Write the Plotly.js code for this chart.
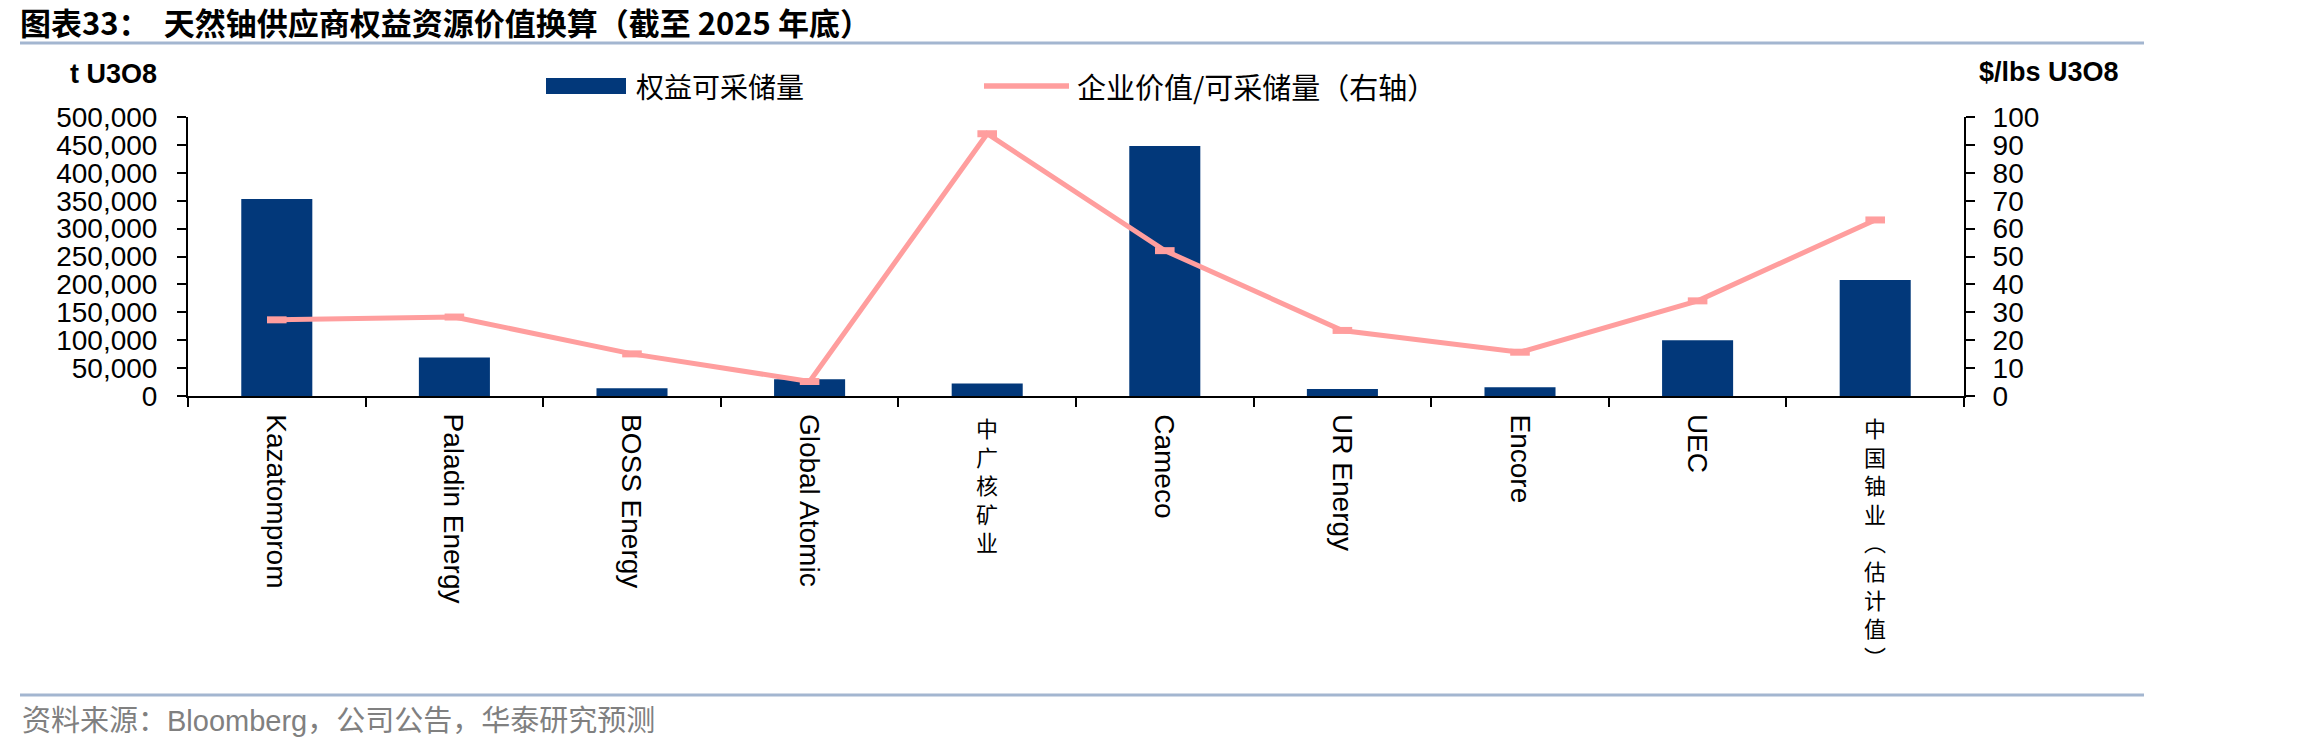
<!DOCTYPE html>
<html>
<head>
<meta charset="utf-8">
<script src="https://cdn.plot.ly/plotly-3.0.1.min.js"></script>
<style>
  html, body { margin: 0; padding: 0; background: #ffffff; }
  #chart { width: 2298px; height: 752px; }
</style>
</head>
<body>
<div id="chart"></div>
<script>
// ---- data ----
const categories = ['Kazatomprom', 'Paladin Energy', 'BOSS Energy', 'Global Atomic', '中广核矿业', 'Cameco', 'UR Energy', 'Encore', 'UEC', '中国铀业（估计值）'];
const reserves = [353000, 69000, 14000, 30000, 22500, 448000, 12500, 15500, 100000, 208000];
const evPerLb = [27.3, 28.3, 15.1, 5.2, 94.0, 52.1, 23.5, 15.7, 34.1, 63.1];
const barName = '权益可采储量';
const lineName = '企业价值/可采储量（右轴）';
const leftUnit = 't U3O8';
const rightUnit = '$/lbs U3O8';
const titleText = '图表33：  天然铀供应商权益资源价值换算（截至 2025 年底）';
const sourceText = '资料来源：Bloomberg，公司公告，华泰研究预测';

// ---- layout geometry ----
const W = 2298, H = 752;
const M = { l: 188, r: 334, t: 117, b: 356 };
const PW = W - M.l - M.r, PH = H - M.t - M.b;
const px = x => (x - M.l) / PW;          // pixel -> paper x
const py = y => (H - M.b - y) / PH;      // pixel -> paper y

const BAR = '#02387A';
const LINE = '#FF9E9E';
const LATIN = 'Liberation Sans, Arial, sans-serif';
const CJK = 'Noto Sans CJK SC, sans-serif';

const isCJK = s => /[\u4e00-\u9fff]/.test(s);
const stackCJK = s => Array.from(s.replace('（', '︵').replace('）', '︶')).join('<br>');

const traces = [
  {
    type: 'bar', x: categories, y: reserves, name: barName,
    marker: { color: BAR }, width: 0.4, yaxis: 'y', showlegend: false,
    hoverinfo: 'x+y'
  },
  {
    type: 'scatter', mode: 'lines+markers', x: categories, y: evPerLb, name: lineName,
    yaxis: 'y2', showlegend: false,
    line: { color: LINE, width: 5 },
    marker: { symbol: 'line-ew', size: 14, color: LINE, line: { color: LINE, width: 7 } }
  }
];

const annotations = categories.map(c => ({
  x: c, xref: 'x', y: 0, yref: 'paper', yshift: isCJK(c) ? -13 : -16,
  xanchor: 'center', yanchor: 'top', showarrow: false,
  text: isCJK(c) ? stackCJK(c) : c,
  textangle: isCJK(c) ? 0 : 90,
  font: isCJK(c) ? { family: CJK, size: 22, color: '#000' } : { family: LATIN, size: 28, color: '#000' }
}));

annotations.push(
  { xref: 'paper', yref: 'paper', x: px(113), y: py(74), xanchor: 'center', yanchor: 'middle', showarrow: false,
    text: leftUnit, font: { family: LATIN, size: 27, color: '#000', weight: 'bold' } },
  { xref: 'paper', yref: 'paper', x: px(2049), y: py(72), xanchor: 'center', yanchor: 'middle', showarrow: false,
    text: rightUnit, font: { family: LATIN, size: 27, color: '#000', weight: 'bold' } },
  { xref: 'paper', yref: 'paper', x: px(634), y: py(86), xanchor: 'left', yanchor: 'middle', showarrow: false,
    text: barName, font: { family: CJK, size: 28, color: '#000' } },
  { xref: 'paper', yref: 'paper', x: px(1075), y: py(86), xanchor: 'left', yanchor: 'middle', showarrow: false,
    text: lineName, font: { family: CJK, size: 29, color: '#000' } },
  { xref: 'paper', yref: 'paper', x: px(20), y: py(721), xanchor: 'left', yanchor: 'middle', showarrow: false,
    text: sourceText, font: { family: LATIN + ', ' + CJK, size: 29, color: '#808080' } }
);

const shapes = [
  { type: 'line', xref: 'paper', yref: 'paper', x0: px(20), x1: px(2144), y0: py(43), y1: py(43),
    line: { color: '#A3B6D0', width: 3 } },
  { type: 'line', xref: 'paper', yref: 'paper', x0: px(20), x1: px(2144), y0: py(695), y1: py(695),
    line: { color: '#A3B6D0', width: 3 } },
  { type: 'rect', xref: 'paper', yref: 'paper', x0: px(546), x1: px(626), y0: py(94), y1: py(78),
    fillcolor: BAR, line: { width: 0 } },
  { type: 'line', xref: 'paper', yref: 'paper', x0: px(984), x1: px(1069), y0: py(86), y1: py(86),
    line: { color: LINE, width: 5.5 } }
];

const axisCommon = {
  showline: true, linecolor: '#000', linewidth: 2,
  ticks: 'outside', ticklen: 9, tickwidth: 2, tickcolor: '#000',
  showgrid: false, zeroline: false,
  tickfont: { family: LATIN, size: 28, color: '#000' }
};

const layout = {
  width: W, height: H,
  margin: M,
  paper_bgcolor: '#ffffff', plot_bgcolor: '#ffffff',
  showlegend: false,
  title: {
    text: titleText, xref: 'container', yref: 'container',
    x: 20 / W, xanchor: 'left', y: 1 - 24 / H, yanchor: 'middle',
    font: { family: CJK, size: 31, color: '#000', weight: 'bold' }
  },
  xaxis: Object.assign({}, axisCommon, {
    type: 'category', range: [-0.5, categories.length - 0.5],
    tickson: 'boundaries', showticklabels: false
  }),
  yaxis: Object.assign({}, axisCommon, {
    range: [0, 500000], dtick: 50000, tick0: 0, tickformat: ',d',
    ticklabelstandoff: 14
  }),
  yaxis2: Object.assign({}, axisCommon, {
    overlaying: 'y', side: 'right', range: [0, 100], dtick: 10, tick0: 0,
    ticklabelstandoff: 12
  }),
  annotations: annotations,
  shapes: shapes,
  bargap: 0.6
};

Plotly.newPlot('chart', traces, layout, { displayModeBar: false, staticPlot: true });
</script>
</body>
</html>
